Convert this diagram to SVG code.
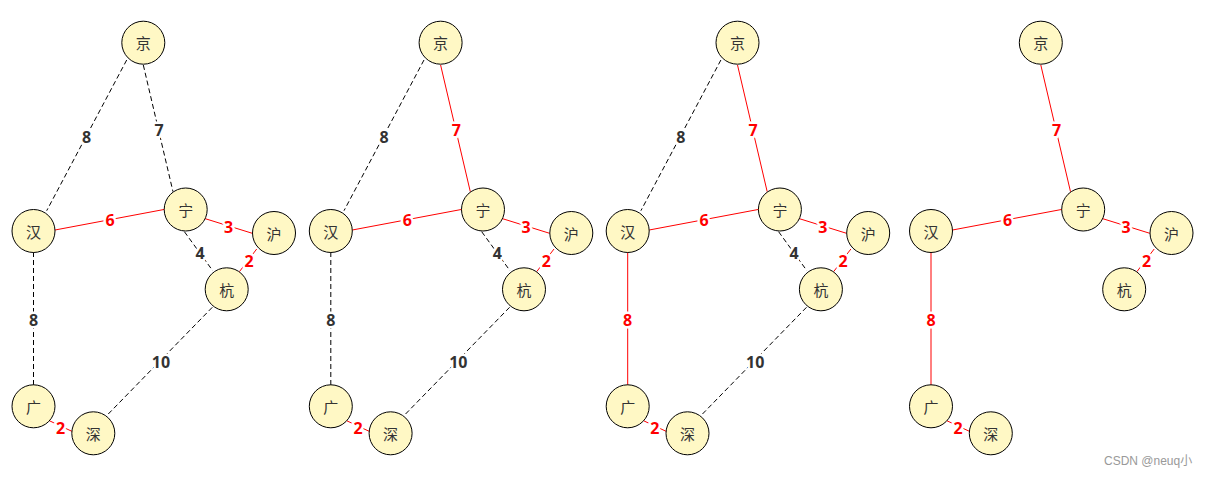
<svg xmlns="http://www.w3.org/2000/svg" width="1208" height="477" viewBox="0 0 1208 477">
<style>
.e{fill:none;stroke-width:1}
.d{stroke:#000;stroke-dasharray:5 3}
.r{stroke:#ff0000}
.l{font-family:"Open Sans","Noto Sans",sans-serif;font-weight:bold;font-size:16px;text-anchor:middle;dominant-baseline:central;stroke:#fff;stroke-width:5;paint-order:stroke;stroke-linejoin:round}
.lk{fill:#333}
.lr{fill:#ff0000}
.n circle{fill:#fff8c5;stroke:#000;stroke-width:1}
.n text{font-family:"Noto Sans CJK SC","Noto Sans",sans-serif;font-size:15px;fill:#333;text-anchor:middle;dominant-baseline:central}
</style>
<rect width="1208" height="477" fill="#fff"/>

<!-- Panel 1 -->
<g id="panel1">
<g id="p1-edges">
<line class="e d" x1="126.7" y1="60" x2="46.7" y2="210.7"/>
<line class="e d" x1="143.3" y1="65" x2="173" y2="191.7"/>
<line class="e r" x1="55" y1="230" x2="165" y2="209.3"/>
<line class="e r" x1="204" y1="218.3" x2="252.3" y2="233.3"/>
<line class="e d" x1="184.4" y1="231.7" x2="212.7" y2="270.7"/>
<line class="e r" x1="256.7" y1="249" x2="239.4" y2="271.7"/>
<line class="e d" x1="33.5" y1="252" x2="33.5" y2="385"/>
<line class="e d" x1="212.3" y1="307.3" x2="107.3" y2="415"/>
<line class="e r" x1="49.3" y1="420.7" x2="72.7" y2="431.7"/>
<text class="l lk" x="86.7" y="137">8</text>
<text class="l lk" x="159" y="129.5">7</text>
<text class="l lr" x="110" y="220">6</text>
<text class="l lr" x="228.7" y="227">3</text>
<text class="l lk" x="200" y="253">4</text>
<text class="l lr" x="249" y="261">2</text>
<text class="l lk" x="33.5" y="319.5">8</text>
<text class="l lk" x="161" y="362">10</text>
<text class="l lr" x="60.7" y="427.5">2</text>
</g>
<g id="p1-jing" class="n"><circle cx="143.3" cy="42.7" r="21.5"/><text x="143.3" y="42.7">京</text></g>
<g id="p1-han" class="n"><circle cx="33.5" cy="231" r="21.5"/><text x="33.5" y="231">汉</text></g>
<g id="p1-ning" class="n"><circle cx="185.7" cy="209.5" r="21.5"/><text x="185.7" y="209.5">宁</text></g>
<g id="p1-hu" class="n"><circle cx="274" cy="233" r="21.5"/><text x="274" y="233">沪</text></g>
<g id="p1-hang" class="n"><circle cx="226.7" cy="289.3" r="21.5"/><text x="226.7" y="289.3">杭</text></g>
<g id="p1-guang" class="n"><circle cx="33.5" cy="406.3" r="21.5"/><text x="33.5" y="406.3">广</text></g>
<g id="p1-shen" class="n"><circle cx="93.3" cy="433.3" r="21.5"/><text x="93.3" y="433.3">深</text></g>
</g>

<!-- Panel 2 -->
<g id="panel2" transform="translate(297.3,0)">
<g id="p2-edges">
<line class="e d" x1="126.7" y1="60" x2="46.7" y2="210.7"/>
<line class="e r" x1="143.3" y1="65" x2="173" y2="191.7"/>
<line class="e r" x1="55" y1="230" x2="165" y2="209.3"/>
<line class="e r" x1="204" y1="218.3" x2="252.3" y2="233.3"/>
<line class="e d" x1="184.4" y1="231.7" x2="212.7" y2="270.7"/>
<line class="e r" x1="256.7" y1="249" x2="239.4" y2="271.7"/>
<line class="e d" x1="33.5" y1="252" x2="33.5" y2="385"/>
<line class="e d" x1="212.3" y1="307.3" x2="107.3" y2="415"/>
<line class="e r" x1="49.3" y1="420.7" x2="72.7" y2="431.7"/>
<text class="l lk" x="86.7" y="137">8</text>
<text class="l lr" x="159" y="129.5">7</text>
<text class="l lr" x="110" y="220">6</text>
<text class="l lr" x="228.7" y="227">3</text>
<text class="l lk" x="200" y="253">4</text>
<text class="l lr" x="249" y="261">2</text>
<text class="l lk" x="33.5" y="319.5">8</text>
<text class="l lk" x="161" y="362">10</text>
<text class="l lr" x="60.7" y="427.5">2</text>
</g>
<g id="p2-jing" class="n"><circle cx="143.3" cy="42.7" r="21.5"/><text x="143.3" y="42.7">京</text></g>
<g id="p2-han" class="n"><circle cx="33.5" cy="231" r="21.5"/><text x="33.5" y="231">汉</text></g>
<g id="p2-ning" class="n"><circle cx="185.7" cy="209.5" r="21.5"/><text x="185.7" y="209.5">宁</text></g>
<g id="p2-hu" class="n"><circle cx="274" cy="233" r="21.5"/><text x="274" y="233">沪</text></g>
<g id="p2-hang" class="n"><circle cx="226.7" cy="289.3" r="21.5"/><text x="226.7" y="289.3">杭</text></g>
<g id="p2-guang" class="n"><circle cx="33.5" cy="406.3" r="21.5"/><text x="33.5" y="406.3">广</text></g>
<g id="p2-shen" class="n"><circle cx="93.3" cy="433.3" r="21.5"/><text x="93.3" y="433.3">深</text></g>
</g>

<!-- Panel 3 -->
<g id="panel3" transform="translate(594.2,0)">
<g id="p3-edges">
<line class="e d" x1="126.7" y1="60" x2="46.7" y2="210.7"/>
<line class="e r" x1="143.3" y1="65" x2="173" y2="191.7"/>
<line class="e r" x1="55" y1="230" x2="165" y2="209.3"/>
<line class="e r" x1="204" y1="218.3" x2="252.3" y2="233.3"/>
<line class="e d" x1="184.4" y1="231.7" x2="212.7" y2="270.7"/>
<line class="e r" x1="256.7" y1="249" x2="239.4" y2="271.7"/>
<line class="e r" x1="33.5" y1="252" x2="33.5" y2="385"/>
<line class="e d" x1="212.3" y1="307.3" x2="107.3" y2="415"/>
<line class="e r" x1="49.3" y1="420.7" x2="72.7" y2="431.7"/>
<text class="l lk" x="86.7" y="137">8</text>
<text class="l lr" x="159" y="129.5">7</text>
<text class="l lr" x="110" y="220">6</text>
<text class="l lr" x="228.7" y="227">3</text>
<text class="l lk" x="200" y="253">4</text>
<text class="l lr" x="249" y="261">2</text>
<text class="l lr" x="33.5" y="319.5">8</text>
<text class="l lk" x="161" y="362">10</text>
<text class="l lr" x="60.7" y="427.5">2</text>
</g>
<g id="p3-jing" class="n"><circle cx="143.3" cy="42.7" r="21.5"/><text x="143.3" y="42.7">京</text></g>
<g id="p3-han" class="n"><circle cx="33.5" cy="231" r="21.5"/><text x="33.5" y="231">汉</text></g>
<g id="p3-ning" class="n"><circle cx="185.7" cy="209.5" r="21.5"/><text x="185.7" y="209.5">宁</text></g>
<g id="p3-hu" class="n"><circle cx="274" cy="233" r="21.5"/><text x="274" y="233">沪</text></g>
<g id="p3-hang" class="n"><circle cx="226.7" cy="289.3" r="21.5"/><text x="226.7" y="289.3">杭</text></g>
<g id="p3-guang" class="n"><circle cx="33.5" cy="406.3" r="21.5"/><text x="33.5" y="406.3">广</text></g>
<g id="p3-shen" class="n"><circle cx="93.3" cy="433.3" r="21.5"/><text x="93.3" y="433.3">深</text></g>
</g>

<!-- Panel 4 -->
<g id="panel4" transform="translate(897.5,0)">
<g id="p4-edges">
<line class="e r" x1="143.3" y1="65" x2="173" y2="191.7"/>
<line class="e r" x1="55" y1="230" x2="165" y2="209.3"/>
<line class="e r" x1="204" y1="218.3" x2="252.3" y2="233.3"/>
<line class="e r" x1="256.7" y1="249" x2="239.4" y2="271.7"/>
<line class="e r" x1="33.5" y1="252" x2="33.5" y2="385"/>
<line class="e r" x1="49.3" y1="420.7" x2="72.7" y2="431.7"/>
<text class="l lr" x="159" y="129.5">7</text>
<text class="l lr" x="110" y="220">6</text>
<text class="l lr" x="228.7" y="227">3</text>
<text class="l lr" x="249" y="261">2</text>
<text class="l lr" x="33.5" y="319.5">8</text>
<text class="l lr" x="60.7" y="427.5">2</text>
</g>
<g id="p4-jing" class="n"><circle cx="143.3" cy="42.7" r="21.5"/><text x="143.3" y="42.7">京</text></g>
<g id="p4-han" class="n"><circle cx="33.5" cy="231" r="21.5"/><text x="33.5" y="231">汉</text></g>
<g id="p4-ning" class="n"><circle cx="185.7" cy="209.5" r="21.5"/><text x="185.7" y="209.5">宁</text></g>
<g id="p4-hu" class="n"><circle cx="274" cy="233" r="21.5"/><text x="274" y="233">沪</text></g>
<g id="p4-hang" class="n"><circle cx="226.7" cy="289.3" r="21.5"/><text x="226.7" y="289.3">杭</text></g>
<g id="p4-guang" class="n"><circle cx="33.5" cy="406.3" r="21.5"/><text x="33.5" y="406.3">广</text></g>
<g id="p4-shen" class="n"><circle cx="93.3" cy="433.3" r="21.5"/><text x="93.3" y="433.3">深</text></g>
</g>

<text x="1104" y="465" font-family="'Liberation Sans','Noto Sans CJK SC',sans-serif" font-size="12" fill="#999">CSDN @neuq小</text>
</svg>
